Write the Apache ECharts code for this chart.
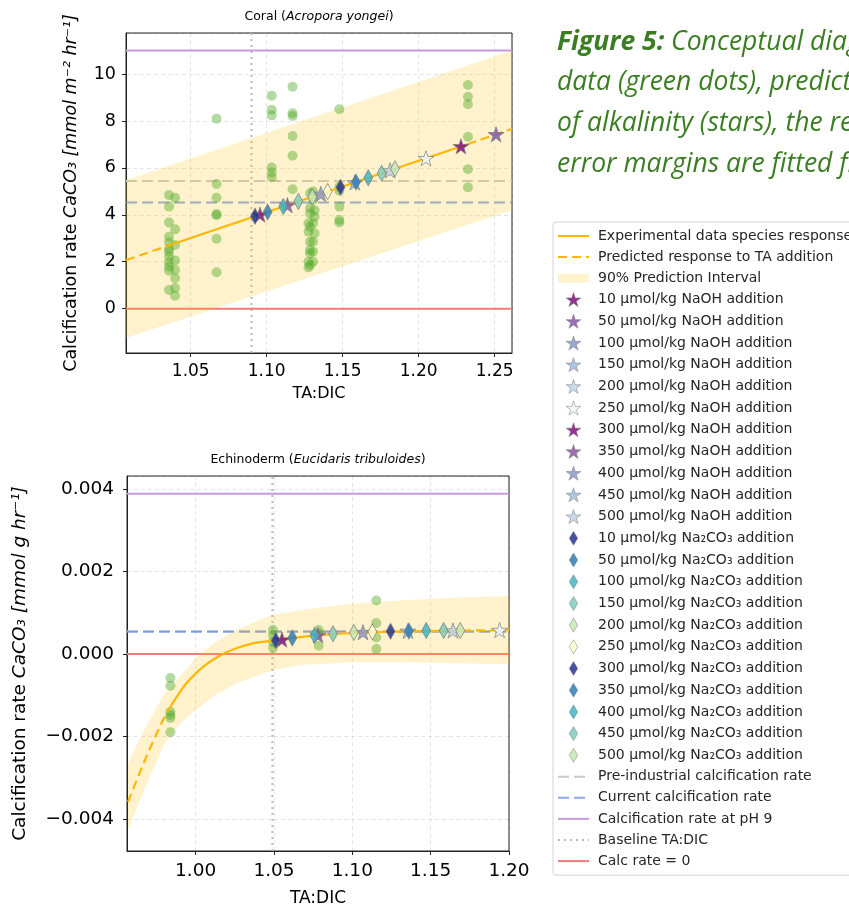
<!DOCTYPE html>
<html>
<head>
<meta charset="utf-8">
<script src="https://cdn.jsdelivr.net/npm/echarts@6/dist/echarts.min.js"></script>
<style>
  html, body { margin: 0; padding: 0; background: #fff; }
  #chart { width: 849px; height: 909px; }
</style>
</head>
<body>
<div id="chart"></div>
<script>
// ---- axis ranges ----
const coralRangeX = [1.0074, 1.2614]
const coralRangeY = [-1.89, 11.75]
const echiRangeX = [0.9562, 1.2]
const echiRangeY = [-0.00478, 0.00432]

// ---- reference levels ----
const coralPreIndustrial = 5.44
const coralCurrent = 4.52
const coralPH9 = 11.0
const coralBaseline = 1.09
const echiPreIndustrial = 0.00055
const echiCurrent = 0.00054
const echiPH9 = 0.00389
const echiBaseline = 1.049

// ---- experimental data (green dots) ----
const coralDots = [
  [1.0357, 4.84], [1.0397, 4.73], [1.0357, 4.35], [1.0357, 3.67], [1.0397, 3.38], [1.0357, 3.07],
  [1.0357, 2.83], [1.0397, 2.71], [1.0357, 2.55], [1.0357, 2.43], [1.0357, 2.22], [1.0397, 2.05],
  [1.0357, 1.98], [1.0357, 1.80], [1.0397, 1.65], [1.0357, 1.62], [1.0397, 1.30], [1.0397, 0.88],
  [1.0357, 0.80], [1.0397, 0.55],
  [1.067, 8.1], [1.067, 5.31], [1.067, 4.73], [1.067, 4.03], [1.067, 3.98], [1.067, 2.98], [1.067, 1.55],
  [1.1033, 9.08], [1.1033, 8.48], [1.1033, 8.24], [1.1033, 6.02], [1.1033, 5.8], [1.1033, 5.6],
  [1.117, 9.46], [1.117, 8.33], [1.117, 8.21], [1.117, 7.36], [1.117, 6.52], [1.117, 5.09],
  [1.1305, 4.99], [1.1285, 4.92], [1.1305, 4.63], [1.1285, 4.28], [1.1315, 4.2], [1.1285, 4.06],
  [1.1315, 3.92], [1.1275, 3.64], [1.1305, 3.64], [1.1285, 3.49], [1.1275, 3.28], [1.1315, 3.21],
  [1.1285, 2.85], [1.1305, 2.85], [1.1285, 2.5], [1.1305, 2.43], [1.1285, 2.36], [1.1275, 2.0],
  [1.1305, 2.0], [1.1285, 1.86], [1.1275, 1.76],
  [1.1478, 8.5], [1.1478, 5.2], [1.1478, 5.03], [1.1478, 4.35], [1.1478, 3.78], [1.1478, 3.67],
  [1.2324, 9.53], [1.2324, 9.03], [1.2324, 8.71], [1.2324, 7.33], [1.2324, 5.94], [1.2324, 5.17]
]
const echiDots = [
  [0.9839, -0.00058], [0.9839, -0.00077], [0.9839, -0.0014], [0.9839, -0.00148], [0.9839, -0.00155], [0.9839, -0.0019],
  [1.0494, 0.00058], [1.0494, 0.00046], [1.0494, 0.0003], [1.0494, 0.00015],
  [1.0785, 0.00058], [1.0785, 0.0005], [1.0785, 0.0002],
  [1.1153, 0.0013], [1.1153, 0.00075], [1.1153, 0.0004], [1.1153, 0.00012]
]

// ---- fitted response ----
const coralFitSolid = [[1.035, 2.68], [1.232, 7.01]]
const coralFitLeft = [[1.0074, 2.07], [1.035, 2.68]]
const coralFitRight = [[1.232, 7.01], [1.2614, 7.66]]
const coralBandUpper = [[1.0074, 5.48], [1.2614, 11.0]]
const coralBandLower = [[1.0074, -1.25], [1.2614, 4.2]]

const echiFitLeft = [[0.9568, -0.00359], [0.9685, -0.0025], [0.9802, -0.00152], [0.9839, -0.00128]]
const echiFitSolid = [[0.9839, -0.00128], [0.9887, -0.001], [0.9941, -0.00071], [1.0047, -0.00031],
  [1.0153, -0.00004], [1.026, 0.00014], [1.0366, 0.00026], [1.0494, 0.00033], [1.0791, 0.00046],
  [1.1217, 0.00054], [1.17, 0.00057]]
const echiFitRight = [[1.17, 0.00057], [1.2, 0.00058]]
const echiBandUpper = [[0.9568, -0.00266], [0.965, -0.002], [0.975, -0.0013], [0.9802, -0.00096],
  [0.99, -0.00055], [1.0, -0.0001], [1.013, 0.0003], [1.026, 0.00058], [1.04, 0.00082], [1.0494, 0.00095],
  [1.07, 0.00108], [1.1, 0.00122], [1.13, 0.0013], [1.16, 0.00136], [1.2, 0.00141]]
const echiBandLower = [[0.9568, -0.00428], [0.965, -0.0035], [0.975, -0.0026], [0.9802, -0.00217],
  [0.99, -0.0017], [1.0, -0.00136], [1.013, -0.00098], [1.026, -0.00071], [1.04, -0.00052], [1.0494, -0.00039],
  [1.07, -0.00026], [1.1, -0.0002], [1.13, -0.0002], [1.16, -0.00022], [1.2, -0.00025]]

// ---- predicted points for alkalinity additions ----
const levels = [10, 50, 100, 150, 200, 250, 300, 350, 400, 450, 500]
const coralNaohX = [1.0956, 1.1136, 1.1356, 1.158, 1.1811, 1.2048, 1.2278, 1.2509, 1.274, 1.296, 1.318]
const coralNaohY = [4.01, 4.41, 4.89, 5.38, 5.89, 6.41, 6.92, 7.43, 7.94, 8.42, 8.9]
const coralNa2co3X = [1.0923, 1.1006, 1.1109, 1.1208, 1.13, 1.1401, 1.1485, 1.1587, 1.1668, 1.1756, 1.1844]
const coralNa2co3Y = [3.94, 4.12, 4.35, 4.57, 4.77, 4.99, 5.17, 5.4, 5.58, 5.77, 5.96]
const echiNaohX = [1.0551, 1.0781, 1.1068, 1.1355, 1.1642, 1.194, 1.2238, 1.2537, 1.2836, 1.3135, 1.3434]
const echiNaohY = [0.00035, 0.00046, 0.00053, 0.00056, 0.00057, 0.00058, 0.00058, 0.00058, 0.00058, 0.00058, 0.00058]
const echiNa2co3X = [1.0511, 1.0617, 1.0759, 1.0877, 1.101, 1.1128, 1.1244, 1.1361, 1.1472, 1.1583, 1.1689]
const echiNa2co3Y = [0.00033, 0.00039, 0.00045, 0.00049, 0.00052, 0.00054, 0.00055, 0.00056, 0.00057, 0.00057, 0.00057]

const naohColors = ['#810f7c', '#8856a7', '#8c96c6', '#9ebcda', '#bfd3e6', '#edf8fb',
  '#810f7c', '#8856a7', '#8c96c6', '#9ebcda', '#bfd3e6']
const na2co3Colors = ['#253494', '#2c7fb8', '#41b6c4', '#7fcdbb', '#c7e9b4', '#ffffcc',
  '#253494', '#2c7fb8', '#41b6c4', '#7fcdbb', '#c7e9b4']

const STAR = 'path://M50,0 L61.2,34.5 L97.6,34.5 L68.2,55.9 L79.4,90.5 L50,69.1 L20.6,90.5 L31.8,55.9 L2.4,34.5 L38.8,34.5 Z'
const THIN_DIAMOND = 'path://M30,0 L60,50 L30,100 L0,50 Z'

const FONT = 'DejaVu Sans'
const ORANGE = '#ffb700'
const BAND = 'rgba(255,191,0,0.2)'

const NAME_FIT = 'Experimental data species response'
const NAME_PRED = 'Predicted response to TA addition'
const NAME_BAND = '90% Prediction Interval'
const NAME_PRE = 'Pre-industrial calcification rate'
const NAME_CUR = 'Current calcification rate'
const NAME_PH9 = 'Calcification rate at pH 9'
const NAME_BASE = 'Baseline TA:DIC'
const NAME_ZERO = 'Calc rate = 0'
const naohName = l => l + ' µmol/kg NaOH addition'
const na2co3Name = l => l + ' µmol/kg Na₂CO₃ addition'

let chart = echarts.init(document.getElementById('chart'))

function lineSeries(name, data, g, style, z) {
  return {
    name: name, type: 'line', data: data, xAxisIndex: g, yAxisIndex: g,
    symbol: 'none', showSymbol: false, silent: true, z: z,
    smooth: style.smooth || false,
    lineStyle: { color: style.color, width: style.width || 2, type: style.type || 'solid', cap: 'butt' },
    itemStyle: { color: style.color }
  }
}

function bandSeries(upper, lower, g) {
  return {
    name: NAME_BAND, type: 'custom', xAxisIndex: g, yAxisIndex: g, z: 2, silent: true,
    itemStyle: { color: BAND },
    data: [[upper[0][0], upper[0][1]]],
    renderItem: function (params, api) {
      let pts = upper.map(p => api.coord(p)).concat(lower.slice().reverse().map(p => api.coord(p)))
      return { type: 'polygon', shape: { points: pts, smooth: 0 }, style: { fill: BAND } }
    }
  }
}

function panelSeries(g, rx, ry, pre, cur, ph9, base, dots, fitL, fitS, fitR, up, lo, nX, nY, cX, cY, smooth) {
  let out = []
  out.push(lineSeries(NAME_PRE, [[rx[0], pre], [rx[1], pre]], g, { color: '#c8c8c8', type: [11, 5] }, 1))
  out.push(lineSeries(NAME_CUR, [[rx[0], cur], [rx[1], cur]], g, { color: 'rgba(100,140,230,0.75)', type: [11, 5] }, 1))
  out.push(lineSeries(NAME_PH9, [[rx[0], ph9], [rx[1], ph9]], g, { color: '#c898de' }, 1))
  out.push(lineSeries(NAME_BASE, [[base, ry[0]], [base, ry[1]]], g, { color: '#b8b8b8', type: [2, 4] }, 1))
  out.push(lineSeries(NAME_ZERO, [[rx[0], 0], [rx[1], 0]], g, { color: '#ef7b7b' }, 1))
  out.push(bandSeries(up, lo, g))
  out.push({
    name: 'Experimental data', type: 'scatter', xAxisIndex: g, yAxisIndex: g, z: 3, silent: true,
    data: dots, symbol: 'circle', symbolSize: 10,
    itemStyle: { color: 'rgba(80,170,40,0.55)' }
  })
  out.push(lineSeries(NAME_FIT, fitS, g, { color: ORANGE, width: 2.2, smooth: smooth }, 4))
  out.push(lineSeries(NAME_PRED, fitL, g, { color: ORANGE, width: 2.2, type: [9, 5], smooth: smooth }, 4))
  out.push(lineSeries(NAME_PRED, fitR, g, { color: ORANGE, width: 2.2, type: [9, 5], smooth: smooth }, 4))
  levels.forEach((l, i) => {
    out.push({
      name: naohName(l), type: 'scatter', xAxisIndex: g, yAxisIndex: g, z: 5, silent: true,
      data: [[nX[i], nY[i]]], symbol: STAR, symbolSize: 16, symbolKeepAspect: true,
      itemStyle: { color: naohColors[i], opacity: 0.85, borderColor: '#7a7a7a', borderWidth: 0.8 }
    })
  })
  levels.forEach((l, i) => {
    out.push({
      name: na2co3Name(l), type: 'scatter', xAxisIndex: g, yAxisIndex: g, z: 5, silent: true,
      data: [[cX[i], cY[i]]], symbol: THIN_DIAMOND, symbolSize: [9, 16],
      itemStyle: { color: na2co3Colors[i], opacity: 0.85, borderColor: '#7a7a7a', borderWidth: 0.8 }
    })
  })
  return out
}

let series = []
  .concat(panelSeries(0, coralRangeX, coralRangeY, coralPreIndustrial, coralCurrent, coralPH9, coralBaseline,
    coralDots, coralFitLeft, coralFitSolid, coralFitRight, coralBandUpper, coralBandLower,
    coralNaohX, coralNaohY, coralNa2co3X, coralNa2co3Y, false))
  .concat(panelSeries(1, echiRangeX, echiRangeY, echiPreIndustrial, echiCurrent, echiPH9, echiBaseline,
    echiDots, echiFitLeft, echiFitSolid, echiFitRight, echiBandUpper, echiBandLower,
    echiNaohX, echiNaohY, echiNa2co3X, echiNa2co3Y, 0.3))

// line entries: hide the legend symbol, keep the line
const lineEntry = n => ({ name: n, itemStyle: { opacity: 0 } })
let legendData = [lineEntry(NAME_FIT), lineEntry(NAME_PRED), { name: NAME_BAND, icon: 'path://M0,0H31V9H0Z' }]
  .concat(levels.map(naohName))
  .concat(levels.map(na2co3Name))
  .concat([NAME_PRE, NAME_CUR, NAME_PH9, NAME_BASE, NAME_ZERO].map(lineEntry))

function xAxisOf(g, r, showMax, labelSize, margin, nameSize, gap) {
  return {
    type: 'value', gridIndex: g, min: r[0], max: r[1], minInterval: 0.05, maxInterval: 0.05,
    name: 'TA:DIC', nameLocation: 'middle', nameGap: gap,
    nameTextStyle: { fontFamily: FONT, fontSize: nameSize, color: '#000' },
    axisLine: { show: true, onZero: false, lineStyle: { color: '#222', width: 1 } },
    axisTick: { show: true, length: 4, lineStyle: { color: '#222' } },
    axisLabel: {
      fontFamily: FONT, fontSize: labelSize, color: '#000', margin: margin,
      showMinLabel: false, showMaxLabel: showMax,
      formatter: v => v.toFixed(2)
    },
    splitLine: { show: true, lineStyle: { color: 'rgba(0,0,0,0.1)', type: [4, 3] } }
  }
}

function yAxisOf(g, r, step, name, fmt, gap, labelSize, margin, nameSize) {
  return {
    type: 'value', gridIndex: g, min: r[0], max: r[1], minInterval: step, maxInterval: step,
    name: name, nameLocation: 'middle', nameGap: gap, nameRotate: 90,
    nameTextStyle: {
      fontFamily: FONT, fontSize: nameSize, color: '#000',
      rich: {
        n: { fontFamily: FONT, fontSize: nameSize, color: '#000' },
        i: { fontFamily: FONT, fontSize: nameSize, color: '#000', fontStyle: 'italic' }
      }
    },
    axisLine: { show: true, onZero: false, lineStyle: { color: '#222', width: 1 } },
    axisTick: { show: true, length: 4, lineStyle: { color: '#222' } },
    axisLabel: {
      fontFamily: FONT, fontSize: labelSize, color: '#000', margin: margin,
      showMinLabel: false, showMaxLabel: false, formatter: fmt
    },
    splitLine: { show: true, lineStyle: { color: 'rgba(0,0,0,0.1)', type: [4, 3] } }
  }
}

const signed = (v, d) => (v < -1e-12 ? '−' : '') + Math.abs(v).toFixed(d)

let titleRich = {
  n: { fontFamily: FONT, fontSize: 12.5, fill: '#000' },
  i: { fontFamily: FONT, fontSize: 12.5, fill: '#000', fontStyle: 'italic' }
}
let capRich = {
  b: { fontFamily: 'Open Sans', fontSize: 26.5, fontStyle: 'italic', fontWeight: 'bold', fill: '#3b7d23' },
  r: { fontFamily: 'Open Sans', fontSize: 26.5, fontStyle: 'italic', fill: '#3b7d23' }
}
const captionLines = [
  '{b|Figure 5:}{r| Conceptual diagram of}',
  '{r|data (green dots), predicted}',
  '{r|of alkalinity (stars), the regression}',
  '{r|error margins are fitted from}'
]

let option = {
  animation: false,
  backgroundColor: '#fff',
  textStyle: { fontFamily: FONT },
  grid: [
    { left: 126, top: 33, width: 386, height: 320, show: true, borderColor: '#222', borderWidth: 1 },
    { left: 127, top: 476, width: 382, height: 375, show: true, borderColor: '#222', borderWidth: 1 }
  ],
  xAxis: [xAxisOf(0, coralRangeX, false, 17, 10, 16, 33), xAxisOf(1, echiRangeX, true, 18.5, 11, 17, 39)],
  yAxis: [
    yAxisOf(0, coralRangeY, 2, '{n|Calcification rate }{i|CaCO₃ [mmol m⁻² hr⁻¹]}', v => signed(v, 0), 46, 17.5, 10, 17.5),
    yAxisOf(1, echiRangeY, 0.002, '{n|Calcification rate }{i|CaCO₃ [mmol g hr⁻¹]}', v => signed(v, 3), 97, 18.5, 13, 18.5)
  ],
  legend: {
    orient: 'vertical', left: 553, top: 222, data: legendData, selectedMode: false,
    itemWidth: 31, itemHeight: 14, itemGap: 7.1, symbolKeepAspect: true,
    padding: [7, 12, 7, 4],
    itemStyle: { borderWidth: 0.6 },
    backgroundColor: '#fff', borderColor: '#d4d4d4', borderWidth: 1, borderRadius: 3,
    textStyle: { fontFamily: FONT, fontSize: 14, color: '#262626', lineHeight: 14, padding: [0, 0, 0, 4] }
  },
  graphic: [
    { type: 'text', x: 319, y: 17, z: 10,
      style: { text: '{n|Coral (}{i|Acropora yongei}{n|)}', rich: titleRich, align: 'center', verticalAlign: 'middle' } },
    { type: 'text', x: 318, y: 460, z: 10,
      style: { text: '{n|Echinoderm (}{i|Eucidaris tribuloides}{n|)}', rich: titleRich, align: 'center', verticalAlign: 'middle' } }
  ].concat(captionLines.map((t, i) => ({
    type: 'text', x: 557, y: 42 + i * 40.7, z: 10,
    style: { text: t, rich: capRich, align: 'left', verticalAlign: 'middle' }
  }))),
  series: series
}

chart.setOption(option)
</script>
</body>
</html>
